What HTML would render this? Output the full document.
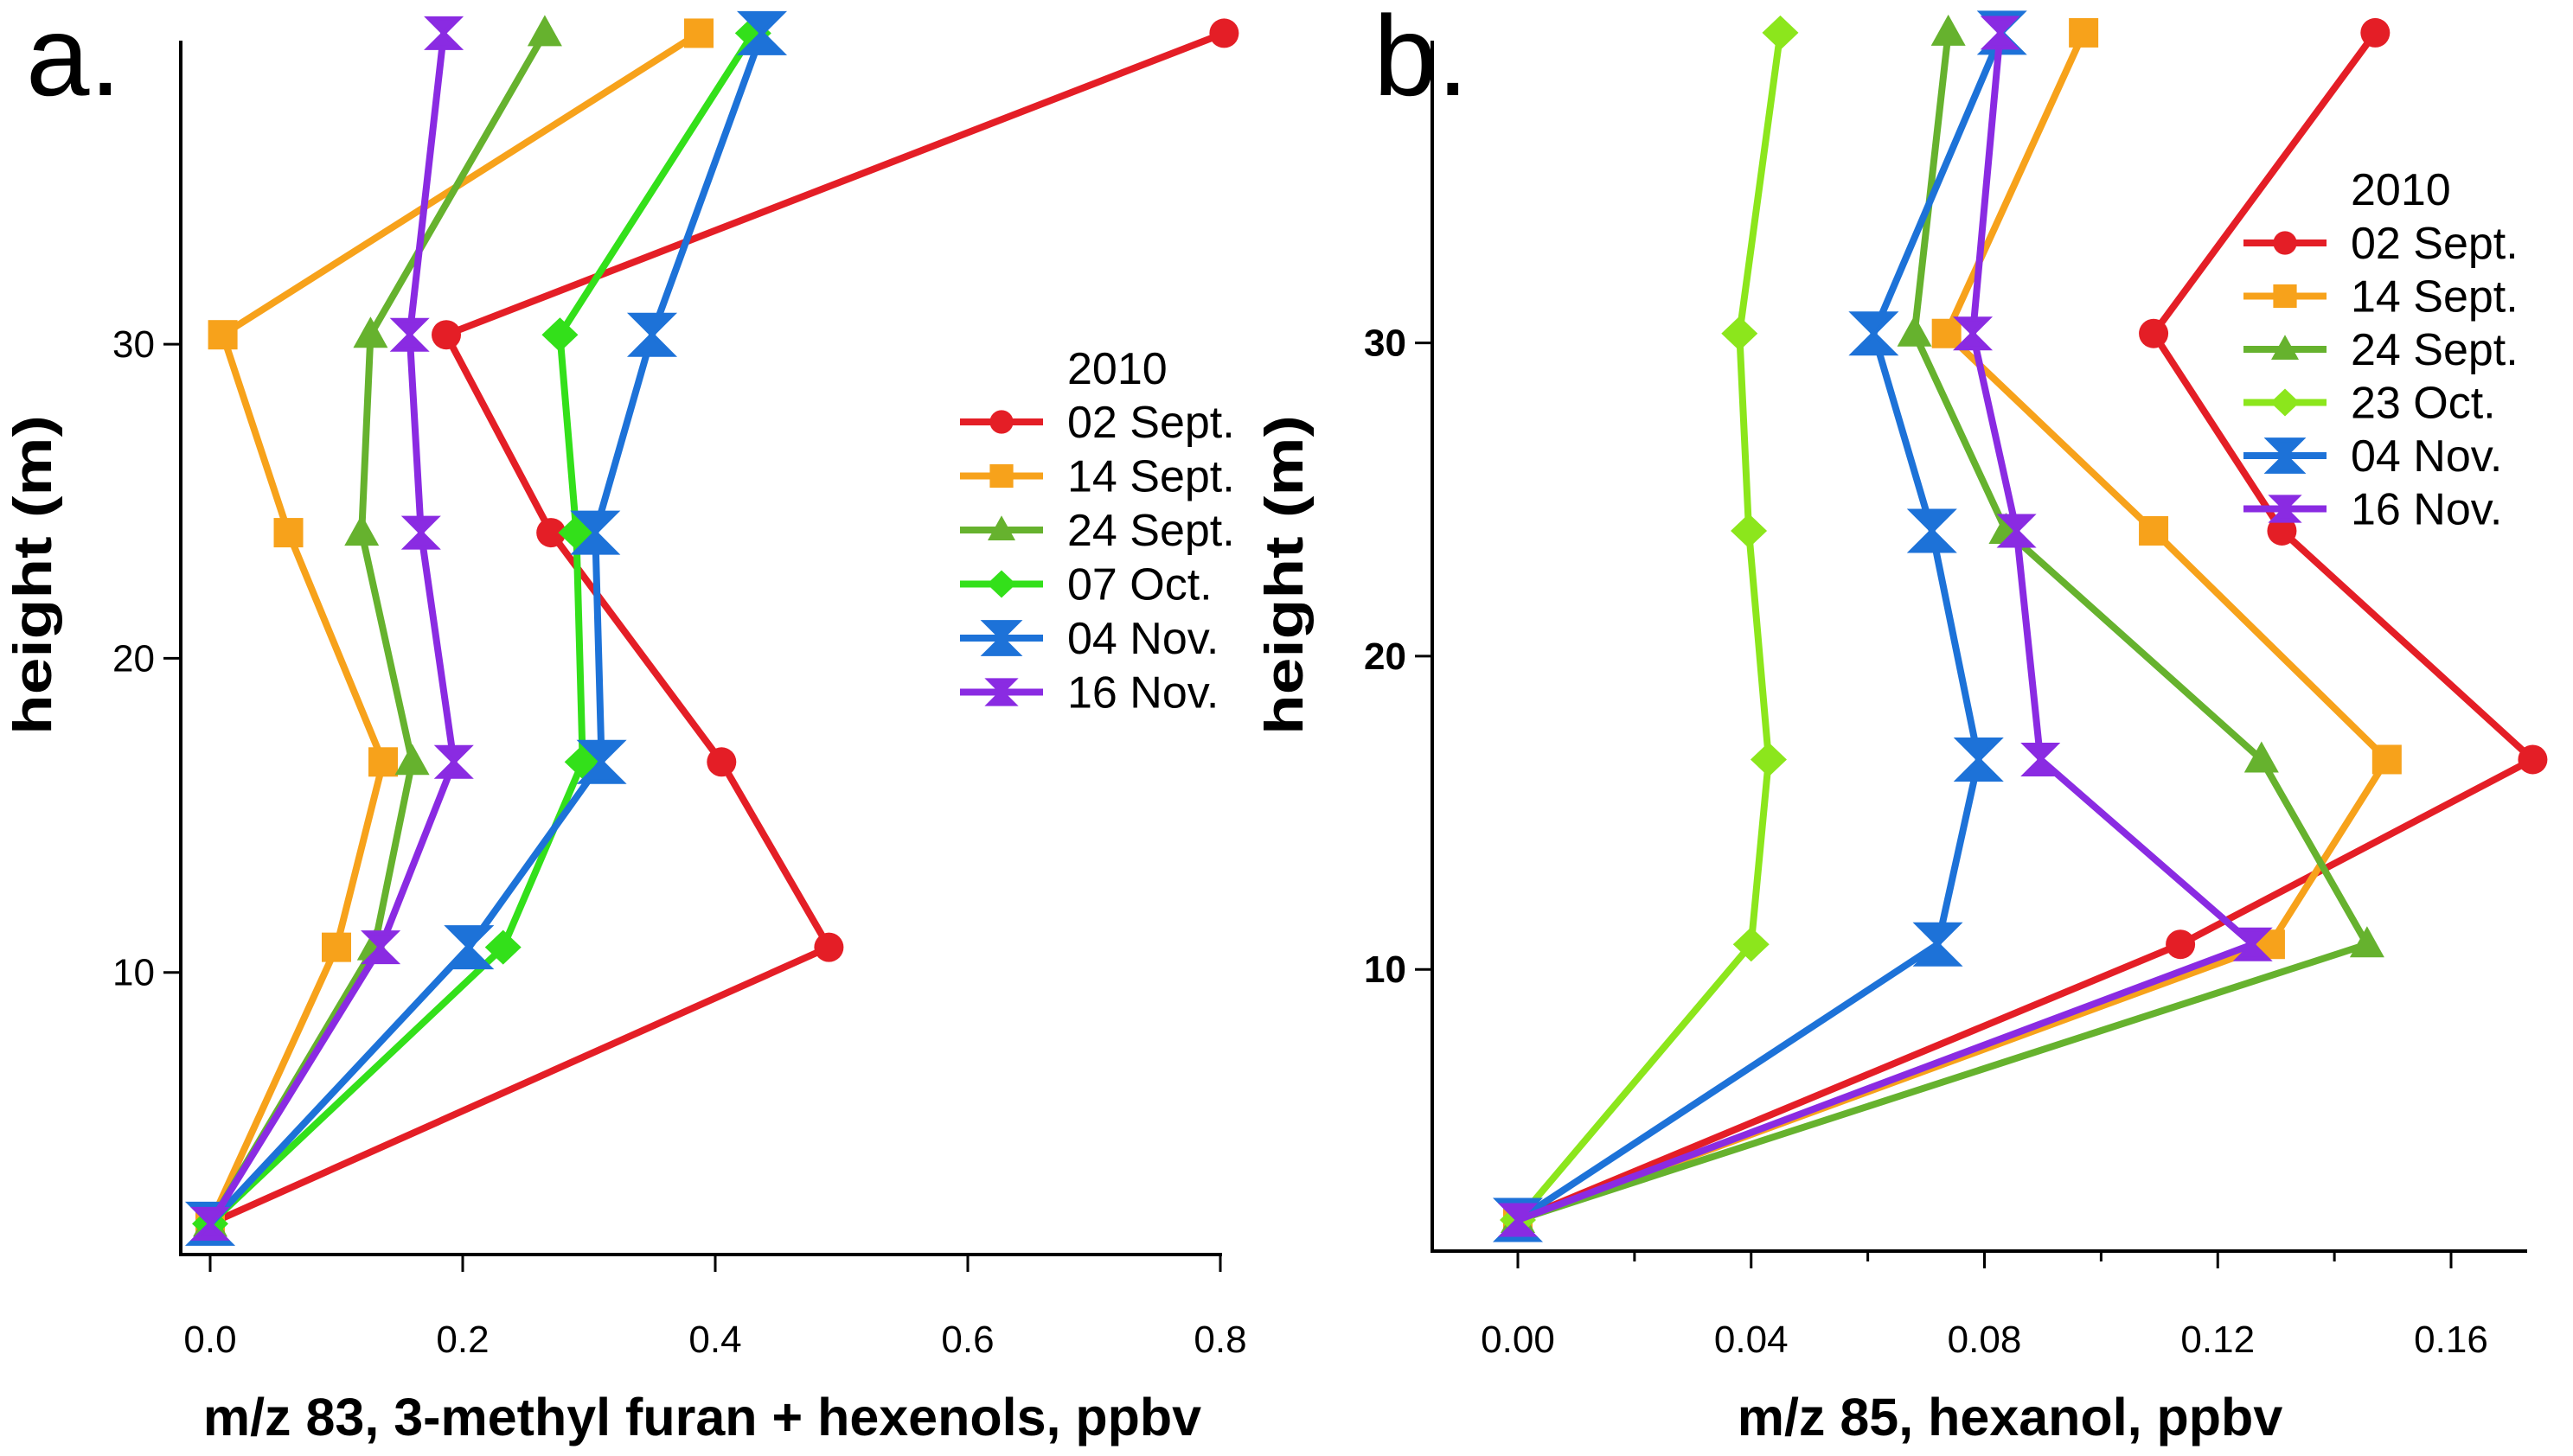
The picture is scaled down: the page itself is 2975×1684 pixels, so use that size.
<!DOCTYPE html>
<html><head><meta charset="utf-8"><style>
html,body{margin:0;padding:0;background:#fff;}
svg{display:block;font-family:"Liberation Sans",Arial,sans-serif;}
</style></head><body>
<svg id="c" width="2975" height="1684" viewBox="0 0 2975 1684">
<text x="30" y="110" font-size="132">a.</text>
<text x="1588" y="110" font-size="132">b.</text>
</svg>
<script>
const heights=[2,10.8,16.7,24,30.3,39.9];
const seriesNamesA=["02 Sept.","14 Sept.","24 Sept.","07 Oct.","04 Nov.","16 Nov."];
const seriesNamesB=["02 Sept.","14 Sept.","24 Sept.","23 Oct.","04 Nov.","16 Nov."];
const a_sep02=[0,0.49,0.405,0.27,0.187,0.803];
const a_sep14=[0,0.10,0.137,0.062,0.01,0.387];
const a_sep24=[0,0.13,0.16,0.12,0.127,0.265];
const a_oct07=[0,0.232,0.295,0.29,0.277,0.43];
const a_nov04=[0,0.205,0.31,0.305,0.35,0.437];
const a_nov16=[0,0.135,0.193,0.167,0.158,0.185];
const b_sep02=[0,0.1136,0.174,0.131,0.109,0.147];
const b_sep14=[0,0.129,0.149,0.109,0.0735,0.097];
const b_sep24=[0,0.1456,0.1275,0.0837,0.068,0.0738];
const b_oct23=[0,0.040,0.043,0.0396,0.038,0.045];
const b_nov04=[0,0.072,0.079,0.071,0.061,0.083];
const b_nov16=[0,0.126,0.0896,0.0855,0.078,0.0827];
const xTicksA=[0,0.2,0.4,0.6,0.8];
const xTickLabelsA=["0.0","0.2","0.4","0.6","0.8"];
const xTicksB=[0,0.04,0.08,0.12,0.16];
const xTickLabelsB=["0.00","0.04","0.08","0.12","0.16"];
const xMinorB=[0.02,0.06,0.10,0.14];
const yTicks=[10,20,30];

const colors=["#e41e26","#f7a21b","#66b22e","#33e01a","#1d72d8","#8a2be2"];
const colorsB=["#e41e26","#f7a21b","#66b22e","#8ce61c","#1d72d8","#8a2be2"];
const markers=["circle","square","triangle","diamond","bowtie","smallbow"];
const svg=document.getElementById('c');
const NS="http://www.w3.org/2000/svg";
function mk(tag,attrs,parent){const e=document.createElementNS(NS,tag);for(const k in attrs)e.setAttribute(k,attrs[k]);(parent||svg).appendChild(e);return e;}
function marker(type,x,y,col,g,s){
  s=s||1;let e;
  if(type==="circle")e=mk('circle',{cx:x,cy:y,r:17*s,fill:col},g);
  else if(type==="square")e=mk('rect',{x:x-17*s,y:y-17*s,width:34*s,height:34*s,fill:col},g);
  else if(type==="triangle")e=mk('polygon',{points:`${x},${y-21*s} ${x+20*s},${y+15*s} ${x-20*s},${y+15*s}`,fill:col},g);
  else if(type==="diamond")e=mk('polygon',{points:`${x},${y-20*s} ${x+21*s},${y} ${x},${y+20*s} ${x-21*s},${y}`,fill:col},g);
  else if(type==="bowtie")e=mk('polygon',{points:`${x-23*s},${y-23*s} ${x+23*s},${y-23*s} ${x},${y} ${x+23*s},${y+23*s} ${x-23*s},${y+23*s} ${x},${y}`,fill:col,stroke:col,'stroke-width':5},g);
  else e=mk('polygon',{points:`${x-17*s},${y-17*s} ${x+17*s},${y-17*s} ${x},${y} ${x+17*s},${y+17*s} ${x-17*s},${y+17*s} ${x},${y}`,fill:col,stroke:col,'stroke-width':5},g);
  return e;
}
function panel(cfg){
  const {id,x0,x1,v1,yb,yPer,axX,axTop,axBot,axRight,series,cols,names,xt,xtl,minor,boldY,legX,legY,legGap,title,titleX}=cfg;
  const X=v=>x0+(x1-x0)*v/v1;
  const Y=h=>yb-h*yPer;
  const g=mk('g',{});
  
  
  const ax=mk('path',{d:`M${axX},${axTop}V${axBot}H${axRight}`,stroke:'#000','stroke-width':4,fill:'none'},g);
  
  
  xt.forEach((v,i)=>{
    mk('line',{x1:X(v),x2:X(v),y1:axBot,y2:axBot+20,stroke:'#000','stroke-width':3},g);
    const t=mk('text',{x:X(v),y:1564,'font-size':44,'text-anchor':'middle'},g);
    t.textContent=xtl[i];
    
    
  });
  (minor||[]).forEach(v=>{mk('line',{x1:X(v),x2:X(v),y1:axBot,y2:axBot+12,stroke:'#000','stroke-width':3},g);});
  yTicks.forEach(h=>{
    mk('line',{x1:axX-20,x2:axX,y1:Y(h),y2:Y(h),stroke:'#000','stroke-width':3},g);
    const t=mk('text',{x:axX-30,y:Y(h)+15,'font-size':44,'text-anchor':'end','font-weight':boldY?'bold':'normal'},g);
    t.textContent=h;
    
    
  });
  const xt2=mk('text',{x:titleX,y:1660,'font-size':61,'font-weight':'bold','text-anchor':'middle'},g);
  xt2.textContent=title;
  
  
  const yty=mk('text',{transform:`translate(${axX-150},665) rotate(-90)`,'font-size':62,'font-weight':'bold','text-anchor':'middle',textLength:370,lengthAdjust:'spacingAndGlyphs'},g);
  yty.textContent="height (m)";
  
  
  series.forEach((vals,si)=>{
    const sg=mk('g',{},g);
    
    
    const pts=vals.map((v,i)=>X(v)+','+Y(heights[i])).join(' ');
    const pl=mk('polyline',{points:pts,fill:'none',stroke:cols[si],'stroke-width':8,'stroke-linejoin':'round'},sg);
    
    
    vals.forEach((v,i)=>{
      const m=marker(markers[si],X(v),Y(heights[i]),cols[si],sg);
      
      
    });
  });
  const lg=mk('g',{},g);
  
  
  const lt=mk('text',{x:legX+124,y:legY-44,'font-size':52},lg);
  lt.textContent="2010";
  
  
  names.forEach((n,i)=>{
    const y=legY+i*legGap;
    const e=mk('g',{},g===null?svg:lg);
    
    
    mk('line',{x1:legX,x2:legX+96,y1:y,y2:y,stroke:cols[i],'stroke-width':8},e);
    marker(markers[i],legX+48,y,cols[i],e,0.8);
    const t=mk('text',{x:legX+124,y:y+18,'font-size':52},e);
    t.textContent=n;
  });
}
panel({id:'panel-a',x0:243,x1:1411,v1:0.8,yb:1488,yPer:36.33,axX:209,axTop:47,axBot:1451,axRight:1413,
  series:[a_sep02,a_sep14,a_sep24,a_oct07,a_nov04,a_nov16],cols:colors,names:seriesNamesA,
  xt:xTicksA,xtl:xTickLabelsA,minor:null,boldY:false,legX:1110,legY:488,legGap:62.5,
  title:"m/z 83, 3-methyl furan + hexenols, ppbv",titleX:812});
panel({id:'panel-b',x0:1755,x1:2834,v1:0.16,yb:1483.5,yPer:36.23,axX:1656,axTop:47,axBot:1447,axRight:2922,
  series:[b_sep02,b_sep14,b_sep24,b_oct23,b_nov04,b_nov16],cols:colorsB,names:seriesNamesB,
  xt:xTicksB,xtl:xTickLabelsB,minor:xMinorB,boldY:true,legX:2594,legY:281,legGap:61.5,
  title:"m/z 85, hexanol, ppbv",titleX:2324});
</script>
</body></html>
